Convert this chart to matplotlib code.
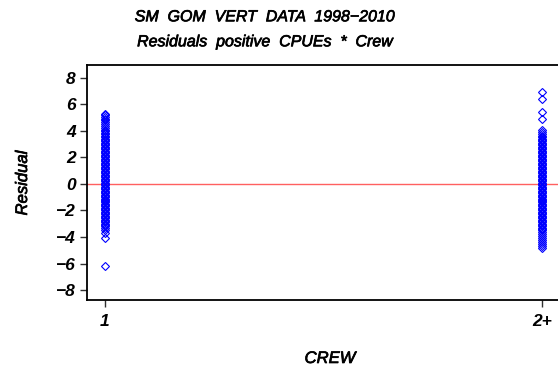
import matplotlib
matplotlib.use("Agg")
import matplotlib.pyplot as plt
import matplotlib.patheffects as pe

# residuals by crew category
crew_labels = ["1", "2+"]

resid_crew1 = [
    5.3, 5.2, 5.05, 4.9, 4.8, 4.65, 4.5, 4.4, 4.25, 4.1, 4.0, 3.85, 3.75, 3.6, 3.5, 3.4,
    3.3, 3.2, 3.1, 3.0, 2.9, 2.8, 2.7, 2.6, 2.5, 2.4, 2.3, 2.2, 2.1, 2.0,
    1.9, 1.8, 1.7, 1.6, 1.5, 1.4, 1.3, 1.2, 1.1, 1.0,
    0.9, 0.8, 0.7, 0.6, 0.5, 0.4, 0.3, 0.2, 0.1, 0.0,
    -0.1, -0.2, -0.3, -0.4, -0.5, -0.6, -0.7, -0.8, -0.9, -1.0,
    -1.1, -1.2, -1.3, -1.4, -1.5, -1.6, -1.7, -1.8, -1.9, -2.0,
    -2.1, -2.2, -2.3, -2.4, -2.5, -2.6, -2.7, -2.8, -2.9, -3.0,
    -3.1, -3.2, -3.35, -3.5, -3.7, -4.1, -6.15,
]

resid_crew2 = [
    6.9, 6.4, 5.4, 4.9, 4.1, 3.9, 3.75, 3.6,
    3.5, 3.4, 3.3, 3.2, 3.1, 3.0, 2.9, 2.8, 2.7, 2.6, 2.5, 2.4, 2.3, 2.2, 2.1, 2.0,
    1.9, 1.8, 1.7, 1.6, 1.5, 1.4, 1.3, 1.2, 1.1, 1.0,
    0.9, 0.8, 0.7, 0.6, 0.5, 0.4, 0.3, 0.2, 0.1, 0.0,
    -0.1, -0.2, -0.3, -0.4, -0.5, -0.6, -0.7, -0.8, -0.9, -1.0,
    -1.1, -1.2, -1.3, -1.4, -1.5, -1.6, -1.7, -1.8, -1.9, -2.0,
    -2.1, -2.2, -2.3, -2.4, -2.5, -2.6, -2.7, -2.8, -2.9, -3.0,
    -3.1, -3.2, -3.3, -3.4, -3.5, -3.6, -3.75, -3.9, -4.05, -4.2,
    -4.35, -4.5, -4.65, -4.8,
]

plt.rcParams['font.family'] = ['Liberation Sans', 'DejaVu Sans']

# text in the reference is a bit heavier than the regular face
heavy = [pe.withStroke(linewidth=0.5, foreground="black")]

fig = plt.figure(figsize=(5.58, 3.73), dpi=100)
# right spine sits just past the figure edge, as in the reference
ax = fig.add_axes([0.1554, 0.1957, 0.85, 0.6313])

for pos, vals in [(1, resid_crew1), (2, resid_crew2)]:
    ax.plot([pos] * len(vals), vals, linestyle="none", marker="D", markersize=4.2,
            markerfacecolor="none", markeredgecolor="#0000ff", markeredgewidth=0.8)

ax.axhline(0, color="#ff6060", linewidth=1.0, zorder=0)

ax.set_xlim(0.959, 2.0434)
ax.set_ylim(-8.75, 9)
ax.set_xticks([1, 2])
ax.set_xticklabels(crew_labels)
ax.set_yticks(range(-8, 9, 2))
ax.set_yticklabels([str(v).replace("-", "\u2212") for v in range(-8, 9, 2)])

for lab in ax.get_xticklabels() + ax.get_yticklabels():
    lab.set_fontsize(12.5)
    lab.set_fontweight("bold")
    lab.set_fontstyle("italic")

ax.tick_params(axis="both", direction="out", length=5, width=1, color="#303030")
ax.tick_params(axis="x", pad=5)
ax.tick_params(axis="y", pad=3)
for s in ax.spines.values():
    s.set_linewidth(1.3)

ax.set_xlabel("CREW", fontsize=12, fontstyle="italic", path_effects=heavy)
ax.set_ylabel("Residual", fontsize=12, fontstyle="italic", path_effects=heavy)
ax.xaxis.set_label_coords((330 - 86.7) / 474.3, -(351 - 300) / 235.5)
ax.yaxis.set_label_coords(-(86.7 - 30) / 474.3, (300 - 183) / 235.5)

fig.text(0.475, 0.955, "SM  GOM  VERT  DATA  1998\u22122010", ha="center", va="center",
         fontsize=11.5, fontstyle="italic", path_effects=heavy)
fig.text(0.475, 0.888, "Residuals  positive  CPUEs  *  Crew", ha="center", va="center",
         fontsize=11.5, fontstyle="italic", path_effects=heavy)

fig.savefig("out.png", dpi=100)
